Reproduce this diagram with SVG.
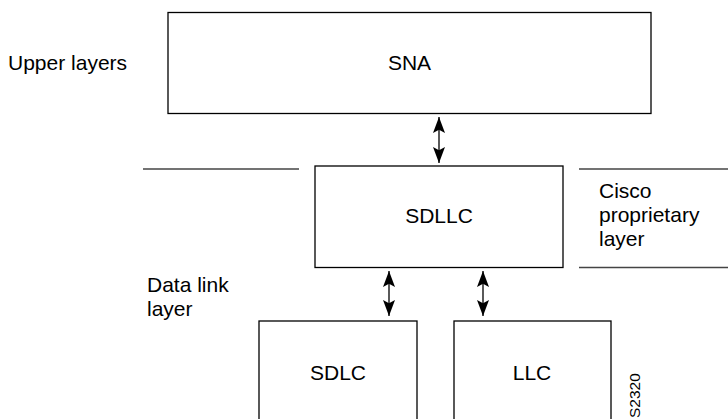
<svg xmlns="http://www.w3.org/2000/svg" width="728" height="419" viewBox="0 0 728 419">
<style>
.box{fill:#fff;stroke:#000;stroke-width:1.3}
.rule{stroke:#444;stroke-width:1.4;fill:none}
.t{font-family:"Liberation Sans",Arial,sans-serif;font-size:21px;fill:#000}
.c{text-anchor:middle}
.arr{stroke:#000;stroke-width:1.3;fill:none;marker-start:url(#ah);marker-end:url(#ah)}
</style>
<defs>
<marker id="ah" viewBox="0 0 10 10" refX="10" refY="5" markerWidth="16" markerHeight="12" markerUnits="userSpaceOnUse" orient="auto-start-reverse" preserveAspectRatio="none">
<path d="M0,0 L10,5 L0,10 L2,5 Z" fill="#000"/>
</marker>
</defs>
<g id="labels">
<text class="t" x="8" y="70">Upper layers</text>
<text class="t" x="599" y="198">Cisco</text>
<text class="t" x="599" y="222">proprietary</text>
<text class="t" x="599" y="246">layer</text>
<text class="t" x="147" y="292">Data link</text>
<text class="t" x="147" y="316">layer</text>
<text class="t" style="font-size:15.5px" transform="translate(640,418) rotate(-90)">S2320</text>
</g>
<g id="rules">
<line class="rule" x1="143" y1="169" x2="299" y2="169"/>
<line class="rule" x1="579" y1="169" x2="728" y2="169"/>
<line class="rule" x1="579" y1="267.5" x2="728" y2="267.5"/>
</g>
<g id="sna">
<rect class="box" x="168" y="12.5" width="483" height="101"/>
<text class="t c" x="409.5" y="70">SNA</text>
</g>
<g id="sdllc">
<rect class="box" x="315" y="166" width="248" height="101.5"/>
<text class="t c" x="439" y="223">SDLLC</text>
</g>
<g id="sdlc">
<rect class="box" x="259" y="321" width="158" height="110"/>
<text class="t c" x="338" y="380">SDLC</text>
</g>
<g id="llc">
<rect class="box" x="454" y="321" width="157" height="110"/>
<text class="t c" x="532" y="380">LLC</text>
</g>
<g id="connectors">
<line class="arr" x1="439" y1="117" x2="439" y2="163"/>
<line class="arr" x1="389" y1="271" x2="389" y2="316"/>
<line class="arr" x1="483" y1="271" x2="483" y2="316"/>
</g>
</svg>
